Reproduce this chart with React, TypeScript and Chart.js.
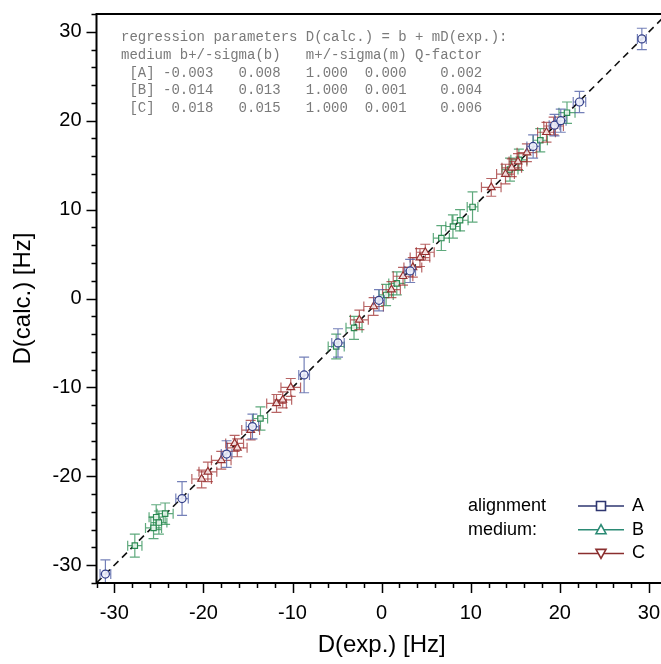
import React, { useEffect, useRef } from 'react';
import { Chart, registerables } from 'chart.js';

Chart.register(...registerables);

// ---------- data ----------
const A_exp = [-31.0, -22.4, -17.4, -14.5, -8.7, -4.9, -0.3, 3.2, 17.0, 19.4, 20.1, 22.2, 29.2];
const A_calc = [-31.0, -22.5, -17.5, -14.4, -8.6, -5.0, -0.2, 3.1, 17.1, 19.5, 20.0, 22.1, 29.2];
const A_xErr = [0.6, 0.7, 0.6, 0.7, 0.6, 0.7, 0.6, 0.6, 0.7, 0.6, 0.6, 0.7, 0.5];
const A_yErr = [1.6, 1.9, 1.5, 1.4, 2.0, 1.6, 1.2, 1.3, 1.3, 1.2, 1.3, 1.2, 1.2];

const B_exp = [-27.7, -25.6, -25.3, -25.0, -24.3, -13.6, -5.1, -3.1, 0.5, 1.7, 6.7, 8.0, 8.8, 10.2, 14.4, 15.4, 17.8, 20.8];
const B_calc = [-27.8, -25.8, -24.6, -25.2, -24.2, -13.5, -5.4, -3.3, 0.4, 1.7, 6.8, 8.1, 8.8, 10.3, 14.5, 15.6, 17.8, 20.9];
const B_xErr = [0.8, 0.9, 0.8, 0.9, 0.9, 0.8, 0.9, 0.9, 0.8, 0.9, 0.9, 0.8, 0.9, 0.6, 0.9, 0.9, 0.8, 0.9];
const B_yErr = [1.3, 1.2, 1.4, 1.3, 1.2, 1.3, 1.4, 1.3, 1.2, 1.3, 1.4, 1.3, 1.2, 1.7, 1.3, 1.2, 1.3, 1.2];

const C_exp = [-20.2, -19.5, -18.0, -16.5, -16.2, -14.7, -11.8, -11.1, -10.2, -2.5, -0.9, 1.1, 2.4, 3.5, 4.3, 4.9, 12.3, 13.9, 14.6, 15.3, 16.3, 18.5, 19.3];
const C_calc = [-20.3, -19.5, -18.2, -16.3, -16.8, -14.8, -11.8, -11.4, -10.0, -2.4, -0.9, 1.0, 2.5, 3.5, 4.6, 5.2, 12.5, 14.0, 14.7, 15.4, 16.4, 18.7, 19.4];
const C_xErr = [1.1, 1.0, 1.1, 1.0, 1.1, 1.0, 1.1, 1.0, 1.1, 1.0, 1.1, 1.0, 1.1, 1.0, 1.1, 1.0, 1.1, 1.0, 1.1, 1.0, 1.1, 1.0, 1.1];
const C_yErr = [1.0, 1.1, 1.0, 0.9, 1.0, 1.1, 1.0, 0.9, 1.0, 1.1, 1.0, 0.9, 1.0, 1.1, 1.0, 0.9, 1.0, 1.1, 1.0, 0.9, 1.0, 1.1, 1.0];

const identityLine = [-32, 32];
const axisRange = [-32, 32];
const xTickLabels = [-30, -20, -10, 0, 10, 20, 30];
const yTickLabels = [-30, -20, -10, 0, 10, 20, 30];
const minorStep = 2;

const regressionText = [
  'regression parameters D(calc.) = b + mD(exp.):',
  'medium b+/-sigma(b)   m+/-sigma(m) Q-factor',
  ' [A] -0.003   0.008   1.000  0.000    0.002',
  ' [B] -0.014   0.013   1.000  0.001    0.004',
  ' [C]  0.018   0.015   1.000  0.001    0.006',
];
const legendTitle = ['alignment', 'medium:'];
const legendLabels = ['A', 'B', 'C'];

const colA = '#34408a';
const colB = '#2b8a52';
const colC = '#963232';
const errA = 'rgba(70,85,160,0.75)';
const errB = 'rgba(40,140,80,0.75)';
const errC = 'rgba(160,50,50,0.75)';
const legendCols = ['#2e3670', '#2b8a74', '#8a2e2e'];

const FONT = "'Liberation Sans', Arial, Helvetica, sans-serif";

function pts(xs: number[], ys: number[]) {
  return xs.map((x, i) => ({ x, y: ys[i] }));
}

const errorBarPlugin = {
  id: 'errorBars',
  beforeDatasetDraw(chart: any, args: any) {
    const ds = chart.data.datasets[args.index];
    if (!ds.xErr) return;
    const { ctx, chartArea } = chart;
    const xs = chart.scales.x;
    const ys = chart.scales.y;
    const meta = args.meta;
    ctx.save();
    ctx.beginPath();
    ctx.rect(chartArea.left, chartArea.top, chartArea.right - chartArea.left, chartArea.bottom - chartArea.top);
    ctx.clip();
    ctx.strokeStyle = ds.errColor;
    ctx.lineWidth = 1.2;
    const cap = 5;
    ds.data.forEach((p: any, i: number) => {
      const el = meta.data[i];
      const px = el.x;
      const py = el.y;
      const x1 = xs.getPixelForValue(p.x - ds.xErr[i]);
      const x2 = xs.getPixelForValue(p.x + ds.xErr[i]);
      const y1 = ys.getPixelForValue(p.y - ds.yErr[i]);
      const y2 = ys.getPixelForValue(p.y + ds.yErr[i]);
      ctx.beginPath();
      ctx.moveTo(x1, py); ctx.lineTo(x2, py);
      ctx.moveTo(x1, py - cap); ctx.lineTo(x1, py + cap);
      ctx.moveTo(x2, py - cap); ctx.lineTo(x2, py + cap);
      ctx.moveTo(px, y1); ctx.lineTo(px, y2);
      ctx.moveTo(px - cap, y1); ctx.lineTo(px + cap, y1);
      ctx.moveTo(px - cap, y2); ctx.lineTo(px + cap, y2);
      ctx.stroke();
    });
    ctx.restore();
  },
};

const framePlugin = {
  id: 'frame',
  afterDraw(chart: any) {
    const { ctx, chartArea } = chart;
    const { left, top, right, bottom } = chartArea;
    const xs = chart.scales.x;
    const ys = chart.scales.y;
    ctx.save();
    ctx.strokeStyle = '#000';
    ctx.lineWidth = 2;
    ctx.beginPath();
    ctx.moveTo(right + 5, top);
    ctx.lineTo(left, top);
    ctx.lineTo(left, bottom);
    ctx.lineTo(right + 5, bottom);
    ctx.stroke();
    ctx.lineWidth = 1.5;
    ctx.beginPath();
    for (let v = axisRange[0]; v <= axisRange[1]; v += minorStep) {
      const len = v % 10 === 0 ? 10 : 5;
      const px = Math.round(xs.getPixelForValue(v)) + 0.5;
      ctx.moveTo(px, bottom);
      ctx.lineTo(px, bottom + len);
      const py = Math.round(ys.getPixelForValue(v)) + 0.5;
      ctx.moveTo(left, py);
      ctx.lineTo(left - len, py);
    }
    ctx.stroke();

    // regression text box
    ctx.fillStyle = '#7a7a7a';
    ctx.font = "14px 'Liberation Mono', 'DejaVu Sans Mono', monospace";
    ctx.textBaseline = 'middle';
    ctx.textAlign = 'left';
    regressionText.forEach((line, i) => {
      ctx.fillText(line, left + 24.5, top + 23 + i * 17.9);
    });

    // legend
    ctx.fillStyle = '#000';
    ctx.font = `18px ${FONT}`;
    ctx.fillText(legendTitle[0], 468, 506);
    ctx.fillText(legendTitle[1], 468, 530);
    legendLabels.forEach((lab, i) => {
      const y = 506 + i * 23.7;
      const c = legendCols[i];
      ctx.strokeStyle = c;
      ctx.lineWidth = 1.5;
      ctx.beginPath();
      ctx.moveTo(578, y);
      ctx.lineTo(624, y);
      ctx.stroke();
      ctx.fillStyle = '#fff';
      ctx.lineWidth = 1.6;
      ctx.beginPath();
      const r = 4.5;
      if (i === 0) {
        ctx.rect(601 - r, y - r, 2 * r, 2 * r);
      } else if (i === 1) {
        ctx.moveTo(601, y - r - 0.5);
        ctx.lineTo(601 + r + 0.5, y + r - 0.5);
        ctx.lineTo(601 - r - 0.5, y + r - 0.5);
        ctx.closePath();
      } else {
        ctx.moveTo(601, y + r + 0.5);
        ctx.lineTo(601 + r + 0.5, y - r + 0.5);
        ctx.lineTo(601 - r - 0.5, y - r + 0.5);
        ctx.closePath();
      }
      ctx.fill();
      ctx.stroke();
      ctx.fillStyle = '#000';
      ctx.fillText(lab, 632, y);
    });
    ctx.restore();
  },
};

export default function App() {
  const ref = useRef<HTMLCanvasElement>(null);
  useEffect(() => {
    if (!ref.current) return;
    const scaleCommon = (labels: number[], title: string) => ({
      type: 'linear' as const,
      min: axisRange[0],
      max: axisRange[1],
      grid: { display: false, drawTicks: false },
      border: { display: false },
      afterBuildTicks: (s: any) => {
        s.ticks = labels.map((v) => ({ value: v }));
      },
      ticks: {
        color: '#000',
        font: { family: FONT, size: 20 },
        callback: (v: any) => String(v),
      },
      title: {
        display: true,
        text: title,
        color: '#000',
        font: { family: FONT, size: 24 },
      },
    });
    const xScale: any = scaleCommon(xTickLabels, 'D(exp.) [Hz]');
    xScale.position = 'bottom';
    xScale.ticks.padding = 18;
    xScale.title.padding = { top: 0, bottom: 4 };
    xScale.afterFit = (s: any) => {
      s.height = 81;
      s.paddingLeft = 0;
      s.paddingRight = 0;
    };
    const yScale: any = scaleCommon(yTickLabels, 'D(calc.) [Hz]');
    yScale.position = 'left';
    yScale.ticks.padding = 15;
    yScale.title.padding = { top: 9, bottom: 0 };
    yScale.afterFit = (s: any) => {
      s.width = 96.5;
      s.paddingTop = 0;
      s.paddingBottom = 0;
    };

    const chart = new Chart(ref.current, {
      type: 'scatter',
      data: {
        datasets: [
          {
            type: 'line',
            label: 'y=x',
            data: identityLine.map((v) => ({ x: v, y: v })),
            borderColor: '#111',
            borderWidth: 1.6,
            borderDash: [7, 5],
            pointRadius: 0,
            fill: false,
            order: 10,
          } as any,
          {
            label: 'B',
            data: pts(B_exp, B_calc),
            xErr: B_xErr,
            yErr: B_yErr,
            errColor: errB,
            pointStyle: 'rect',
            pointRadius: 3.8,
            borderColor: colB,
            backgroundColor: 'rgba(235,248,240,0.9)',
            borderWidth: 1.2,
            order: 3,
          } as any,
          {
            label: 'C',
            data: pts(C_exp, C_calc),
            xErr: C_xErr,
            yErr: C_yErr,
            errColor: errC,
            pointStyle: 'triangle',
            pointRadius: 4.5,
            borderColor: colC,
            backgroundColor: 'rgba(250,232,232,0.9)',
            borderWidth: 1.2,
            order: 2,
          } as any,
          {
            label: 'A',
            data: pts(A_exp, A_calc),
            xErr: A_xErr,
            yErr: A_yErr,
            errColor: errA,
            pointStyle: 'circle',
            pointRadius: 4,
            borderColor: colA,
            backgroundColor: 'rgba(240,242,252,0.9)',
            borderWidth: 1.2,
            order: 1,
          } as any,
        ],
      },
      options: {
        responsive: false,
        animation: false,
        devicePixelRatio: 1,
        layout: { padding: { top: 14, right: 13.2, left: 0, bottom: 0 } },
        plugins: { legend: { display: false }, tooltip: { enabled: false } },
        scales: { x: xScale, y: yScale },
      },
      plugins: [errorBarPlugin, framePlugin],
    });
    return () => chart.destroy();
  }, []);

  return (
    <div style={{ position: 'fixed', left: 0, top: 0, width: 661, height: 664, overflow: 'hidden', background: '#fff' }}>
      <canvas ref={ref} width={680} height={664} style={{ display: 'block' }} />
    </div>
  );
}
